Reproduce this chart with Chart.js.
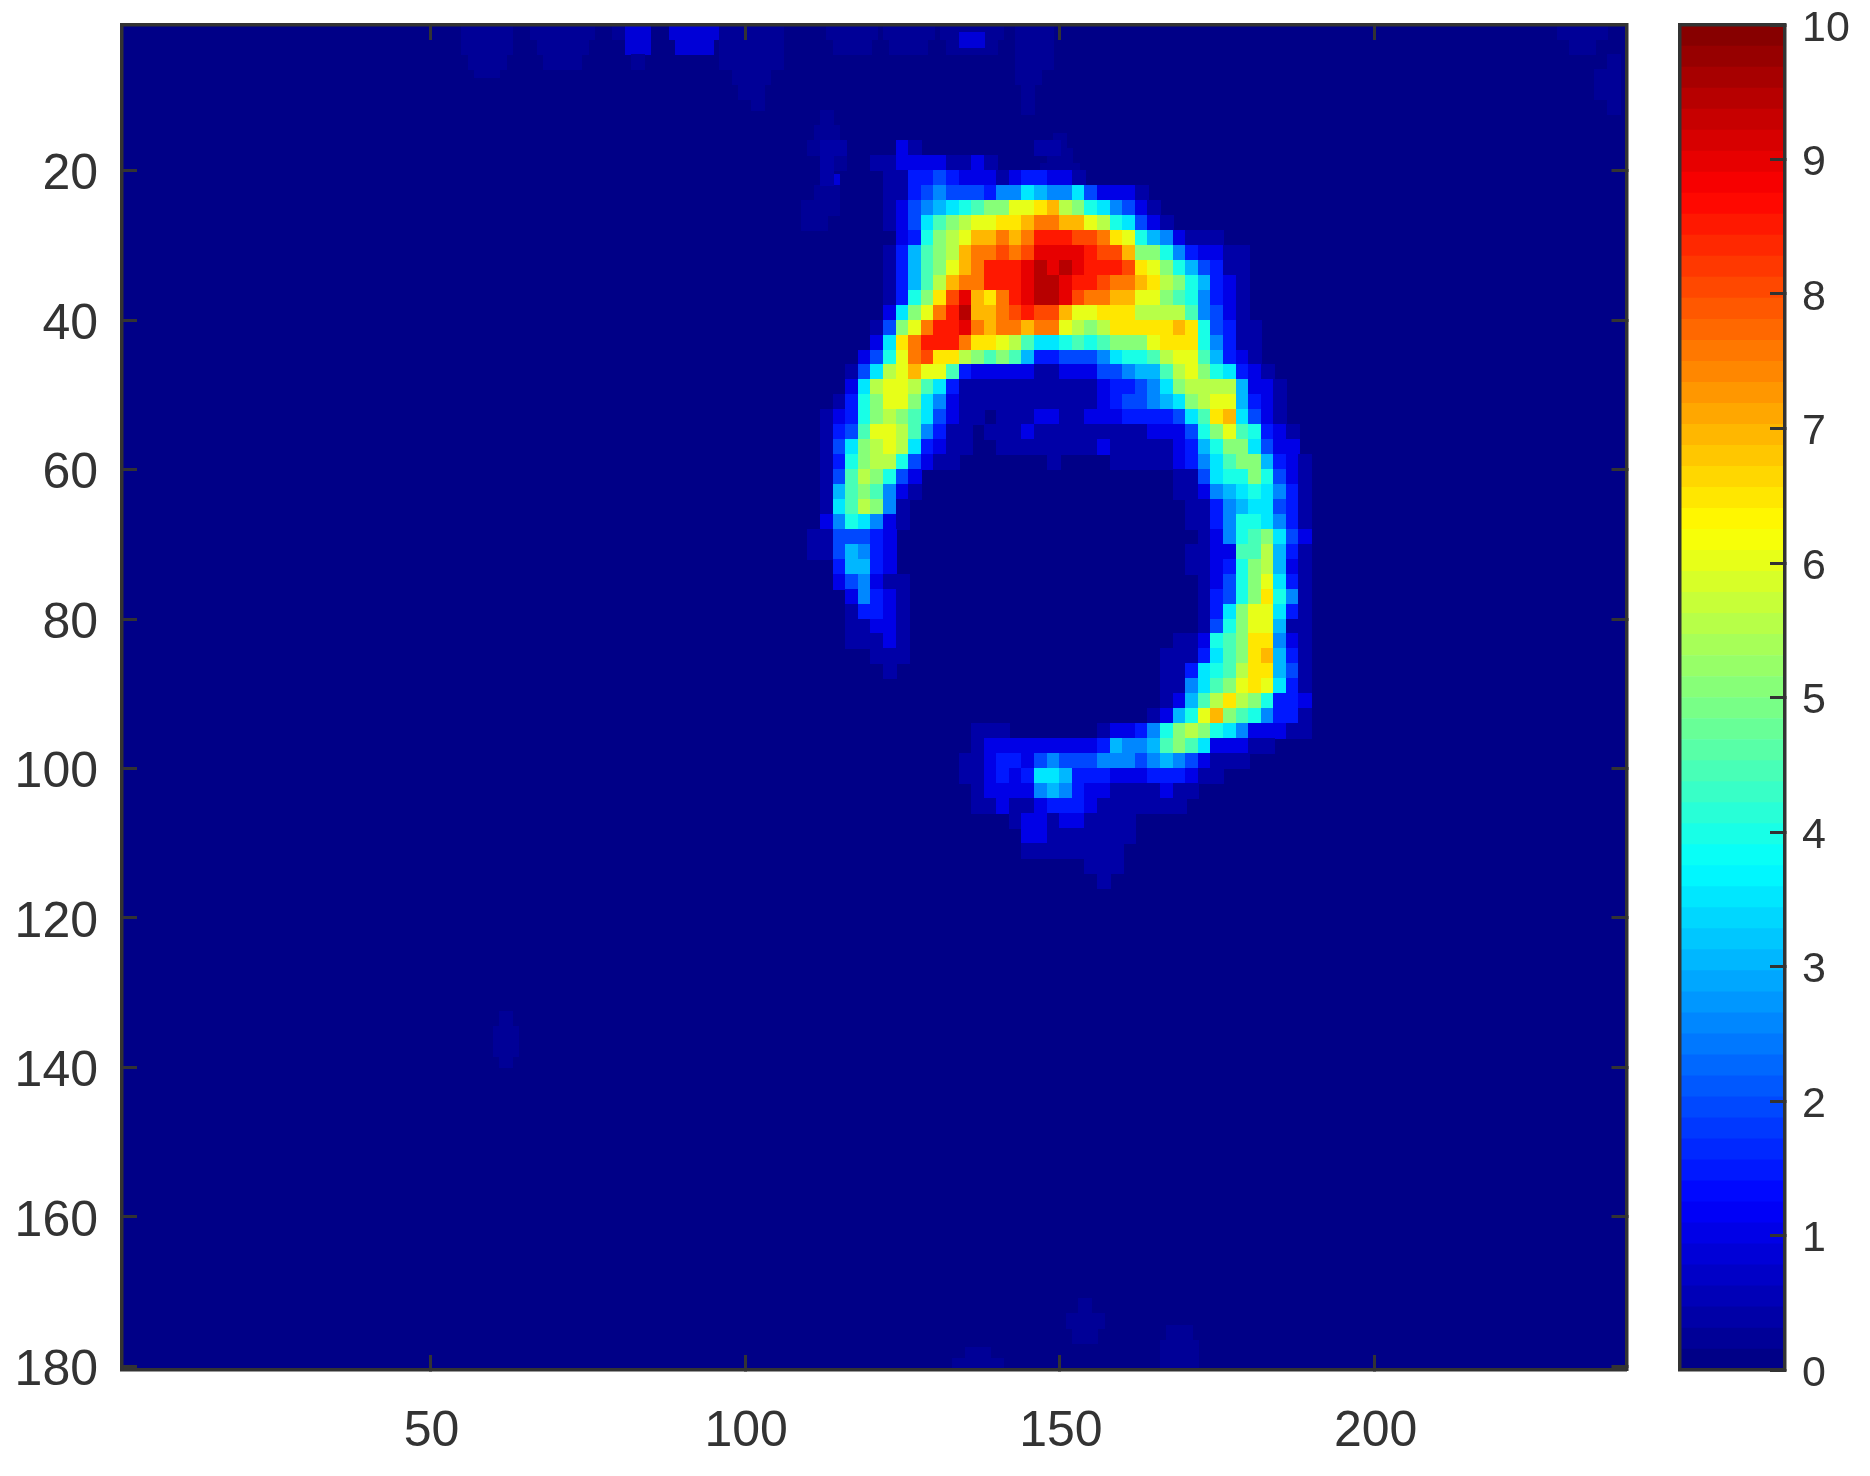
<!DOCTYPE html>
<html><head><meta charset="utf-8">
<style>html,body{margin:0;background:#fff}#wrap{position:relative;width:1870px;height:1476px}canvas{position:absolute;top:0;left:0}</style>
<script src="https://cdn.jsdelivr.net/npm/chart.js@4/dist/chart.umd.min.js"></script>
</head><body><div id="wrap"><div style="position:absolute;left:0;top:0;width:1870px;height:1476px"><canvas id="main" width="1870" height="1476"></canvas></div><div style="position:absolute;left:1640px;top:0;width:230px;height:1476px"><canvas id="bar" width="230" height="1476"></canvas></div></div>
<script>
const xTickValues=[50,100,150,200];
const yTickValues=[20,40,60,80,100,120,140,160,180];
const barTickValues=[0,1,2,3,4,5,6,7,8,9,10];
// ring cells: one string per row, one char per column, char = index into cellLevels
const cellLevels=[0,.4,1,1.5,2,2.5,3,3.5,4,4.5,5,5.5,6,6.5,7,7.5,8,8.5,9,9.5,10];
const gridXFirst=111, gridYFirst=17, gridStep=2;
const cellRows=[
"011000021"+"000000000"+"11",
"010001122221121",
"0100001133432221233221",
"000000113454443557655742221",
"00000012456789aaccdeba875421",
"000000"+"12479abccddeffeecb87421",
"0000000238abceefefhhhggfdc8652111",
"0000001369abeffgfgiiiihggeaa8532211",
"000000"+"1369acefhhhijijihhhgdca864311",
"000000"+"1369beffhhhijjihhgffedba86321",
"000000"+"138adgiedfhijjigffeecca985321",
"000000"+"27acfhjeefghggeccdddbbbb95421",
"00000"+"14acfhhife"+"ffeffcbabd"+"dddded8431"+"1",
"00000"+"27dfhhhfdd"+"cb97789"+"89a"+"aacddd85311",
"0000"+"248cfgddba"+"9a96334445"+"7889bcc963"+"21",
"000"+"147bcecc93"+"2222211222"+"445669bca8"+"7321",
"000"+"27bccb9731"+"1111111111"+"233457abbb"+"b6221",
"00"+"138acca752"+"1111111111"+"12344567ab"+"cc6321",
"01238aba97"+"4211011122"+"1122233334"+"79de7421",
"01349ccb95"+"3110111211"+"1111111222"+"48ac98321",
"0147abcb73"+"2110011111"+"1112111112"+"368aa7422",
"0138abb842"+"1100000001"+"0000111112"+"3579aa6321",
"0149ba8420"+"0000000000"+"0000000001"+"14788a8421",
"0169a95210"+"0000000000"+"0000000001"+"1256787531",
"0179ba5100"+"0000000000"+"0000000000"+"1135677431",
"0258752100"+"0000000000"+"0000000000"+"1135887531",
"1144432000"+"0000000000"+"0000000000"+"012589a742",
"1146532000"+"0000000000"+"0000000000"+"112299b631",
"0036632000"+"0000000000"+"0000000000"+"11238ab621",
"0024521100"+"0000000000"+"0000000000"+"01248ac731",
"0002532100"+"0000000000"+"0000000000"+"01348ad851",
"0001332100"+"0000000000"+"0000000000"+"0137acc731",
"0001122100"+"0000000000"+"0000000000"+"0148acc611",
"0001112100"+"0000000000"+"0000000001"+"1289add521",
"0000011100"+"0000000000"+"0000000011"+"1379ade631",
"0000001000"+"0000000000"+"0000000011"+"3789bdd641",
"0000000000"+"0000000000"+"0000000011"+"579acdc731",
"0000000000"+"0000000000"+"0000000012"+"69bdba8332",
"0000000000"+"0000000000"+"0000000126"+"8cea985331",
"0000000000"+"0001110000"+"000122358a"+"ba87522211",
"0000000000"+"0001222222"+"222365569a"+"9722211000",
"0000000000"+"0011233245"+"4445554565"+"42111",
"0000000000"+"0011232377"+"6333222333"+"211",
"0000000000"+"0001222256"+"5322111121"+"1",
"0000000000"+"0001121123"+"3321111111",
"0000000000"+"0000001221"+"221111",
"0000000000"+"0000000221"+"111111",
"0000000000"+"0000000111"+"11111",
"0000000000"+"0000000000"+"00111",
"0000000000"+"0000000000"+"00010"
];
// faint patches away from the ring: row y, first x, last x, value
const patchY=[1.5,3.5,5.5,6.5, 1.5,3.5,5.5, 1.5,1.5,3.5,5.5, 1.5,3.5, 1.5,3.5,5.5,7.5,9.5,11, 1.5,3.5, 1.5,3.5, 1.5,3.5,2.5, 1.5,3.5,5.5,7.5,9.5,11.5, 13,15,17,19, 21.5,23,25,27, 16,18,20,22,24,26, 1.5,3.5, 5.5,7.5,9.5,11.5, 133.5,135.5,137.5,139, 172,174,176, 178.5,180, 175.5,177.5,179.5];
const patchXFrom=[56,56,57,58, 67,68,69, 80,82,82,83, 89,90, 97,97,97,99,100,102, 114,115, 123,124, 132,133,135, 144,144,144,144,145,145, 113,112,111,113, 114,112,110,110, 150,149,148,148,149,150, 230,232, 238,236,236,238, 62,61,61,62, 154,152,153, 136,134, 168,167,167];
const patchXTo=[62,62,61,60, 76,75,74, 80,84,84,83, 95,94, 105,105,105,104,103,102, 120,119, 129,128, 140,139,137, 149,149,148,147,146,145, 113,115,116,116, 114,115,115,113, 150,152,153,153,151,150, 236,234, 238,239,239,238, 62,64,64,62, 154,156,155, 138,140, 170,171,171];
const patchV=[.25,.25,.25,.25, .25,.25,.25, .25,.8,.8,.25, .8,.8, .25,.25,.25,.25,.25,.25, .25,.25, .25,.25, .25,.25,.8, .25,.25,.25,.25,.25,.25, .25,.25,.25,.25, .8,.25,.25,.25, .25,.25,.25,.25,.25,.25, .25,.25, .25,.25,.25,.25, .25,.25,.25,.25, .25,.25,.25, .25,.25, .25,.25,.25];

const INK='#333333', FAMILY='"Liberation Sans", Arial, sans-serif';
const LEVELS=64, VMAX=10;
function jet(i){const f=(i+.5)/LEVELS;const c=t=>Math.round(255*Math.max(0,Math.min(1,1.5-Math.abs(4*f-t))));return `rgb(${c(3)},${c(2)},${c(1)})`;}
function jetAt(v){return Math.min(LEVELS-1,Math.floor(v/VMAX*LEVELS));}
const stamps={};
function stamp(v){const i=jetAt(v);if(!stamps[i]){const k=document.createElement('canvas');k.width=14;k.height=16;const g=k.getContext('2d');g.fillStyle=jet(i);g.fillRect(0,0,14,16);stamps[i]=k;}return stamps[i];}
const ringPoints=[];
cellRows.forEach((row,r)=>{[...row].forEach((ch,c)=>{const v=cellLevels[parseInt(ch,36)];if(v>0)ringPoints.push({x:gridXFirst+gridStep*c,y:gridYFirst+gridStep*r,v});});});
const patchPoints=[];
patchY.forEach((y,i)=>{for(let x=patchXFrom[i];x<=patchXTo[i];x+=gridStep)patchPoints.push({x,y,v:patchV[i]});});

const fixedTicks=a=>s=>{s.ticks=a.map(value=>({value}));};
function sized(prop,px){return s=>{s[prop]=px;s.paddingLeft=s.paddingRight=s.paddingTop=s.paddingBottom=0;};}
function axis(extra,pad,size,showLabels,labelOffset){return Object.assign({
 grid:{drawOnChartArea:false,drawTicks:true,tickLength:-15,tickWidth:3,tickColor:INK,color:INK,z:1},
 border:{display:true,color:INK,width:3.5,z:1},
 ticks:{display:showLabels,color:INK,autoSkip:false,maxRotation:0,minRotation:0,includeBounds:false,padding:pad,labelOffset:labelOffset||0,font:{family:FAMILY,size}}
},extra);}
const areaBg={id:'areaBg',beforeDatasetsDraw(ch){const a=ch.chartArea;ch.ctx.fillStyle=jet(0);ch.ctx.fillRect(a.left,a.top,a.width,a.height);}};
const cellSet=(label,data)=>({label,data,pointStyle:c=>stamp(c.raw?c.raw.v:0),pointRadius:1,pointHoverRadius:1,borderWidth:0,showLine:false});

new Chart(document.getElementById('main'),{type:'scatter',plugins:[areaBg],
 data:{datasets:[cellSet('ring',ringPoints),cellSet('patches',patchPoints)]},
 options:{responsive:false,animation:false,events:[],devicePixelRatio:1,
  layout:{padding:{top:25,right:243.5,left:0,bottom:0}},
  plugins:{legend:{display:false},tooltip:{enabled:false}},
  scales:{
   x:axis({type:'linear',position:'bottom',min:1,max:240,afterBuildTicks:fixedTicks(xTickValues),afterFit:sized('height',106)},47,50,true,1),
   y:axis({type:'linear',position:'left',reverse:true,min:.5,max:180.5,afterBuildTicks:fixedTicks(yTickValues),afterFit:sized('width',122)},39,50,true,5),
   xTop:axis({type:'linear',position:'top',min:1,max:240,afterBuildTicks:fixedTicks(xTickValues),afterFit:sized('height',0)},0,50,false),
   yRight:axis({type:'linear',position:'right',reverse:true,min:.5,max:180.5,afterBuildTicks:fixedTicks(yTickValues),afterFit:sized('width',0)},0,50,false)
  }}});

const bandIdx=Array.from({length:LEVELS},(_,i)=>i);
new Chart(document.getElementById('bar'),{type:'bar',
 data:{labels:[''],datasets:bandIdx.map(i=>({label:'L'+i,data:[VMAX/LEVELS],backgroundColor:jet(i),borderWidth:0,barPercentage:1,categoryPercentage:1,stack:'s',yAxisID:'y',xAxisID:'x'}))},
 options:{responsive:false,animation:false,events:[],devicePixelRatio:1,
  layout:{padding:{top:25,right:0,left:0,bottom:0}},
  plugins:{legend:{display:false},tooltip:{enabled:false}},
  scales:{
   x:{type:'category',position:'bottom',stacked:true,grid:{display:false},border:{display:true,color:INK,width:3.5,z:1},ticks:{display:false},afterFit:sized('height',106)},
   xTop:{type:'category',position:'top',grid:{display:false},border:{display:true,color:INK,width:3.5,z:1},ticks:{display:false},afterFit:sized('height',0)},
   y:axis({type:'linear',position:'right',stacked:true,min:0,max:VMAX,afterBuildTicks:fixedTicks(barTickValues),afterFit:sized('width',85)},32,43,true,4),
   yLeft:{type:'linear',position:'left',min:0,max:VMAX,grid:{display:false},border:{display:true,color:INK,width:3.5,z:1},ticks:{display:false},afterFit:sized('width',39.5)}
  }}});
</script>
</body></html>
